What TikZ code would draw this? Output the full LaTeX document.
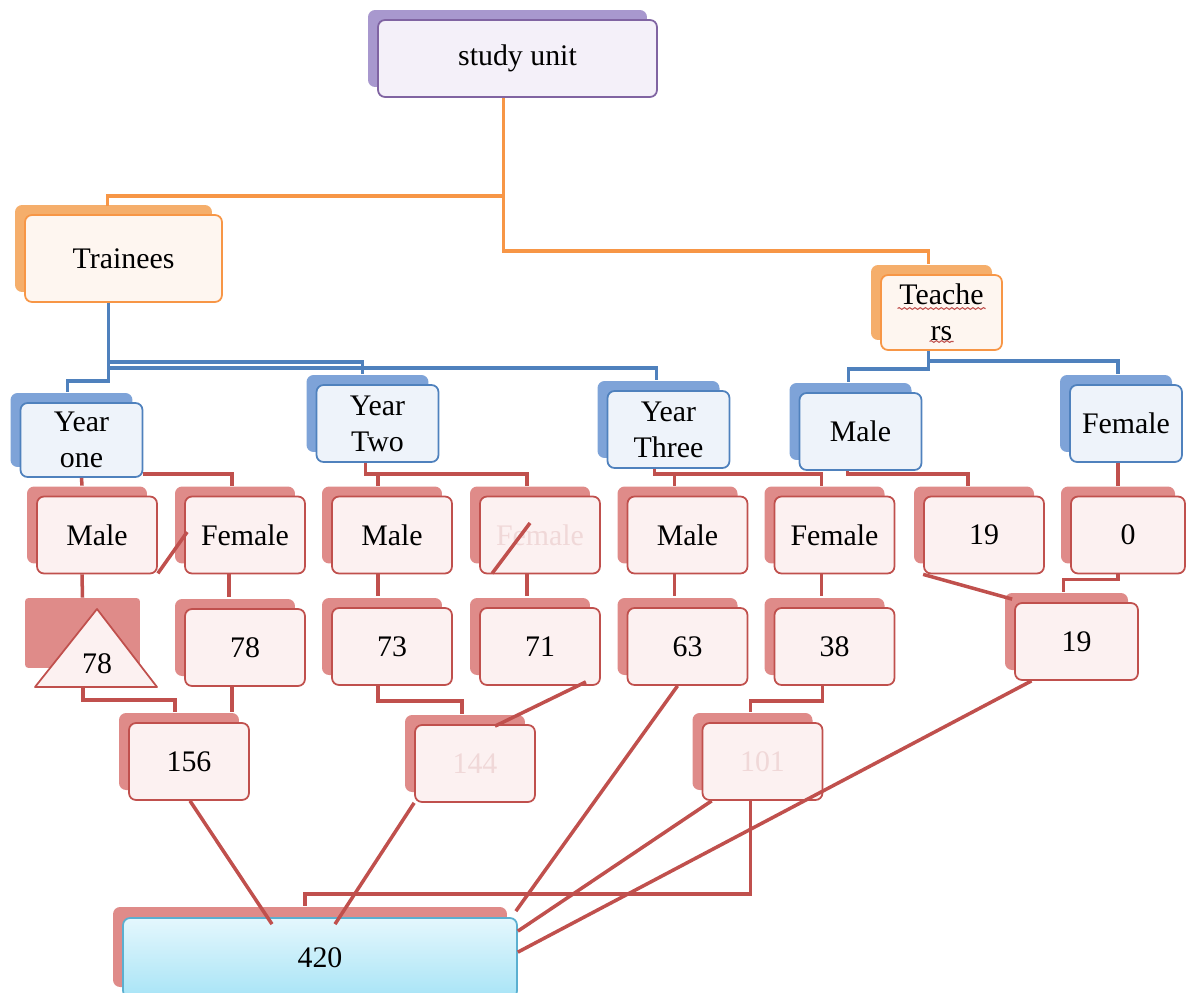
\documentclass[tikz,border=0pt]{standalone}
\usepackage{fontspec}
\setmainfont{Liberation Serif}
\usetikzlibrary{shadows}
\usetikzlibrary{calc}
\usetikzlibrary{decorations.pathmorphing}

\definecolor{cPurple}{HTML}{8064A2}
\definecolor{cPurpleSh}{HTML}{A898CE}
\definecolor{cPurpleFr}{HTML}{F4F0F9}
\definecolor{cOrange}{HTML}{F79646}
\definecolor{cOrangeSh}{HTML}{F5AE6B}
\definecolor{cOrangeFr}{HTML}{FEF6F0}
\definecolor{cBlue}{HTML}{4F81BD}
\definecolor{cBlueSh}{HTML}{7EA3D8}
\definecolor{cBlueFr}{HTML}{EEF3FA}
\definecolor{cRed}{HTML}{C0504D}
\definecolor{cRedSh}{HTML}{DF8B89}
\definecolor{cRedFr}{HTML}{FCF1F1}
\definecolor{cFaded}{HTML}{F0D8D8}
\definecolor{cCyan}{HTML}{5BAFD0}
\definecolor{cCyanTop}{HTML}{E4F7FD}
\definecolor{cCyanBot}{HTML}{A8E4F6}

\begin{document}
\begin{tikzpicture}[x=0.02cm, y=-0.02cm,
    font=\fontsize{17}{20.5}\selectfont,
    box/.style={rounded corners=4pt, line width=1pt, align=center, inner sep=0pt,
      minimum width=2.4cm, minimum height=1.54cm},
    purplebox/.style={box, draw=cPurple, fill=cPurpleFr,
      general shadow={shadow xshift=-0.2cm, shadow yshift=0.2cm, fill=cPurpleSh}},
    orangebox/.style={box, draw=cOrange, fill=cOrangeFr,
      general shadow={shadow xshift=-0.2cm, shadow yshift=0.2cm, fill=cOrangeSh}},
    bluebox/.style={box, draw=cBlue, fill=cBlueFr, minimum width=2.44cm,
      general shadow={shadow xshift=-0.2cm, shadow yshift=0.2cm, fill=cBlueSh}},
    redbox/.style={box, draw=cRed, fill=cRedFr,
      general shadow={shadow xshift=-0.2cm, shadow yshift=0.2cm, fill=cRedSh}},
    totalbox/.style={box, draw=cCyan, top color=cCyanTop, bottom color=cCyanBot,
      general shadow={shadow xshift=-0.2cm, shadow yshift=0.22cm, fill=cRedSh}},
    link/.style={line width=2pt},
    orangelink/.style={link, draw=cOrange},
    bluelink/.style={link, draw=cBlue},
    redlink/.style={link, draw=cRed},
  ]
  \useasboundingbox (0,0) rectangle (1186,993);
  \clip (0,0) rectangle (1186,993);

  % top levels
  \node[purplebox, minimum width=5.58cm] (su) at (517.5,58.5) {study unit};
  \node[orangebox, minimum width=3.94cm, minimum height=1.74cm] (tr) at (123.5,258.5) {Trainees};
  \node[orangebox, minimum width=2.42cm, minimum height=1.5cm] (te) at (941.5,312.5) {Teache\\rs};
  \draw[cRed, line width=0.6pt, decorate, decoration={snake, amplitude=0.5pt, segment length=3pt}]
    ($(te.center)+(-44,-4)$) -- ($(te.center)+(44,-4)$);
  \draw[cRed, line width=0.6pt, decorate, decoration={snake, amplitude=0.5pt, segment length=3pt}]
    ($(te.center)+(-12,29)$) -- ($(te.center)+(12,29)$);

  \node[bluebox, minimum height=1.48cm] (y1) at (81.5,440) {Year\\one};
  \node[bluebox] (y2) at (377.5,423.5) {Year\\Two};
  \node[bluebox] (y3) at (668.5,429.5) {Year\\Three};
  \node[bluebox] (tm) at (860.5,431.5) {Male};
  \node[bluebox, minimum width=2.24cm] (tf) at (1126,423.5) {Female};

  % gender row
  \node[redbox] (m1) at (97,535) {Male};
  \node[redbox] (f1) at (245,535) {Female};
  \node[redbox] (m2) at (392,535) {Male};
  \node[redbox] (f2) at (540,535) {\textcolor{cFaded}{Female}};
  \node[redbox] (m3) at (687.5,535) {Male};
  \node[redbox] (f3) at (834.5,535) {Female};
  \node[redbox] (t19) at (984,535) {19};
  \node[redbox, minimum width=2.28cm] (t0) at (1128,535) {0};

  % counts
  \node[fill=cRedSh, rounded corners=2pt, inner sep=0pt, minimum width=2.3cm, minimum height=1.4cm] (tribg) at (82.5,633) {};
  \draw[line width=1pt, draw=cRed, fill=cRedFr, line join=round] (35,687) -- (97,609) -- (157,687) -- cycle;
  \node (n78a) at (97,664) {78};
  \coordinate (tribase) at (83,687);
  \node[redbox] (f78) at (245,647.5) {78};
  \node[redbox] (n73) at (392,646.5) {73};
  \node[redbox] (n71) at (540,646.5) {71};
  \node[redbox] (n63) at (687.5,646.5) {63};
  \node[redbox] (n38) at (834.5,646.5) {38};
  \node[redbox, minimum width=2.46cm] (t19b) at (1076.5,641.5) {19};

  \node[redbox] (n156) at (189,761.5) {156};
  \node[redbox] (n144) at (475,763.5) {\textcolor{cFaded}{144}};
  \node[redbox] (n101) at (762.5,761.5) {\textcolor{cFaded}{101}};
  \node[totalbox, minimum width=7.88cm, minimum height=1.6cm] (n420) at (320,958) {420};

  % orange links
  \draw[orangelink] ($(su.south)+(-14,0)$) -- ++(0,98) -| ($(tr.north)+(-16,-8)$);
  \draw[orangelink] ($(su.south)+(-14,0)$) -- ++(0,153) -| ($(te.north)+(-13,-10)$);

  % blue links
  \draw[bluelink] ($(tr.south)+(-15,0)$) -- ++(0,78) -| ($(y1.north)+(-14,-10)$);
  \draw[bluelink] ($(tr.south)+(-15,0)$) -- ++(0,59) -| ($(y2.north)+(-15,-10)$);
  \draw[bluelink] ($(tr.south)+(-15,0)$) -- ++(0,65) -| ($(y3.north)+(-12,-10)$);
  \draw[bluelink] ($(te.south)+(-13,0)$) -- ++(0,18) -| ($(tm.north)+(-12,-10)$);
  \draw[bluelink] ($(te.south)+(-13,0)$) -- ++(0,10) -| ($(tf.north)+(-8,-10)$);

  % red links
  \draw[redlink] (y1.south) -- ($(m1.north)+(-15,-10)$);
  \draw[redlink] ($(y1.south east)+(0,-4)$) -| ($(f1.north)+(-13,-10)$);
  \draw[redlink] ($(y2.south)+(-12,0)$) -- ++(0,11) -| ($(f2.north)+(-13,-10)$);
  \draw[redlink] ($(y2.south)+(-12,0)$) -- ++(0,11) -| ($(m2.north)+(-14,-10)$);
  \draw[redlink] ($(y3.south)+(-14,0)$) -- ++(0,5) -| ($(m3.north)+(-13,-10)$);
  \draw[redlink] ($(y3.south)+(-14,0)$) -- ++(0,5) -| ($(f3.north)+(-13,-10)$);
  \draw[redlink] ($(tm.south)+(-13,0)$) -- ++(0,3) -| ($(t19.north)+(-16,-10)$);
  \draw[redlink] ($(tf.south)+(-8,0)$) -- ($(t0.north)+(-10,-10)$);
  \draw[redlink] ($(m1.south east)+(0,-1)$) -- ($(f1.west)+(3,-3)$);
  \draw[redlink] ($(f2.south west)+(13,-1)$) -- ($(f2.center)+(-10,-12)$);

  \draw[redlink] ($(m1.south)+(-15,0)$) -- (tribg.north);
  \draw[redlink] ($(f1.south)+(-16,0)$) -- ($(f78.north)+(-16,-11)$);
  \draw[redlink] ($(m2.south)+(-14,0)$) -- ($(n73.north)+(-14,-11)$);
  \draw[redlink] ($(f2.south)+(-13,0)$) -- ($(n71.north)+(-13,-11)$);
  \draw[redlink] ($(m3.south)+(-13,0)$) -- ($(n63.north)+(-13,-11)$);
  \draw[redlink] ($(f3.south)+(-13,0)$) -- ($(n38.north)+(-13,-11)$);
  \draw[redlink] ($(t0.south)+(-10,0)$) -- ++(0,5) -| ($(t19b.north)+(-13,-10)$);
  \draw[redlink] (t19.south west) -- ($(t19b.north west)+(-2,-3)$);

  \draw[redlink] (tribase) -- ++(0,13) -| ($(n156.north)+(-14,-10)$);
  \draw[redlink] ($(f78.south)+(-13,0)$) -- ($(n156.north)+(43,-10)$);
  \draw[redlink] ($(n73.south)+(-14,0)$) -- ++(0,15) -| ($(n144.north)+(-13,-10)$);
  \draw[redlink] ($(n71.south east)+(-15,-4)$) -- ($(n144.north)+(20,2)$);
  \draw[redlink] ($(n38.south)+(-12,0)$) -- ++(0,15) -| ($(n101.north)+(-12,-10)$);

  % to total
  \draw[redlink] ($(n156.south)+(1,0)$) -- ($(n420.north)+(-48,7)$);
  \draw[redlink] (n144.south west) -- ($(n420.north)+(15,7)$);
  \draw[redlink] ($(n63.south)+(-10,0)$) -- ($(n420.north east)+(-2,-6)$);
  \draw[redlink] ($(n101.south west)+(10,0)$) -- ($(n420.north east)+(0,14)$);
  \draw[redlink] ($(t19b.south)+(-45,0)$) -- ($(n420.north east)+(0,35)$);
  \draw[redlink] ($(n101.south)+(-12,0)$) -- ++(0,93) -| ($(n420.north)+(-15,-11)$);
\end{tikzpicture}
\end{document}
